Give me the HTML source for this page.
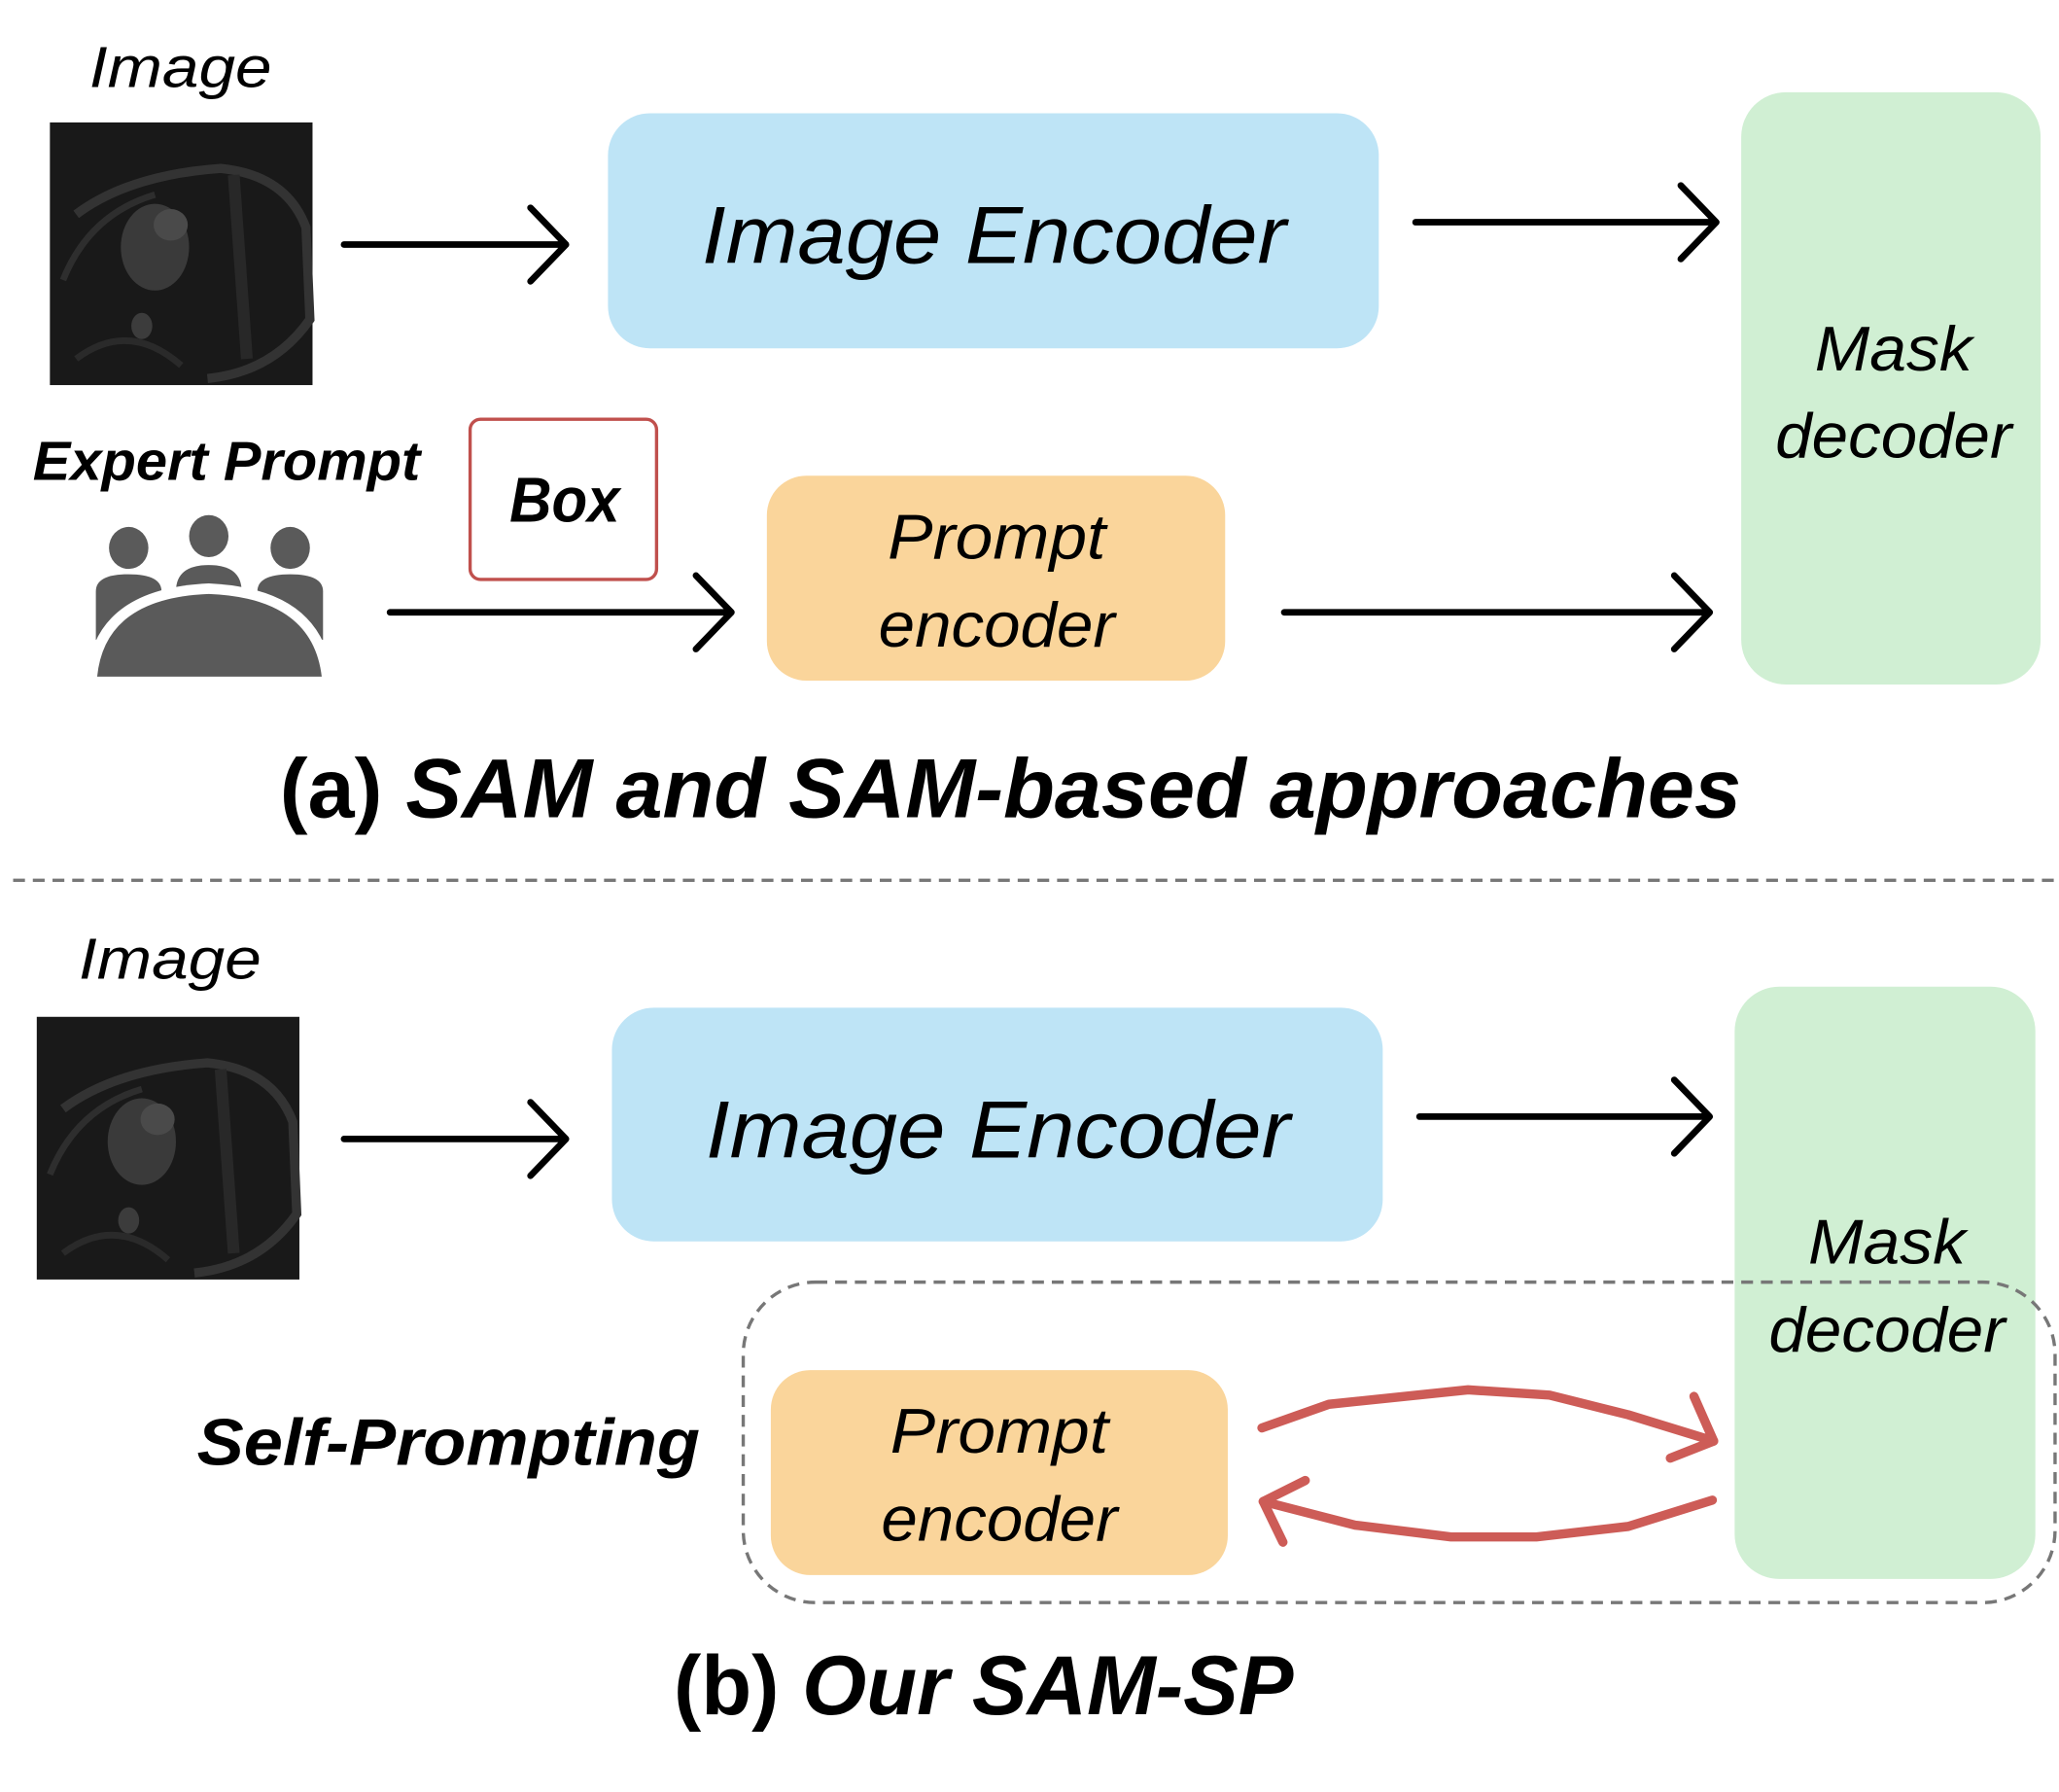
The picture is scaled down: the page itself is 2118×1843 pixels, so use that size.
<!DOCTYPE html>
<html><head><meta charset="utf-8"><style>html,body{margin:0;padding:0;background:#fff}svg{display:block}</style></head>
<body>
<svg width="2118" height="1843" viewBox="0 0 1568 1364" xmlns="http://www.w3.org/2000/svg" font-family="Liberation Sans, sans-serif">
<defs>
<g id="mri">
<rect x="0" y="0" width="200" height="200" fill="#191919"/>
<path d="M20 70 Q60 40 130 35 Q180 40 195 80 L198 150 Q170 190 120 195" fill="none" stroke="#333" stroke-width="7"/>
<path d="M10 120 Q30 70 80 55" fill="none" stroke="#2e2e2e" stroke-width="5"/>
<ellipse cx="80" cy="95" rx="26" ry="33" fill="#3a3a3a"/>
<ellipse cx="92" cy="78" rx="13" ry="12" fill="#4a4a4a"/>
<ellipse cx="70" cy="155" rx="8" ry="10" fill="#3c3c3c"/>
<path d="M140 40 L150 180" stroke="#282828" stroke-width="9"/>
<path d="M20 180 Q60 150 100 185" fill="none" stroke="#2a2a2a" stroke-width="5"/>
</g>
</defs>
<g fill="#000">
<text x="68" y="66" font-size="44" font-style="italic" textLength="139" lengthAdjust="spacingAndGlyphs">Image</text>
<use href="#mri" x="38" y="93"/>
<rect x="463" y="86" width="587" height="179" rx="32" fill="#bee4f6"/>
<text x="757" y="200" font-size="62" font-style="italic" text-anchor="middle" textLength="445" lengthAdjust="spacingAndGlyphs">Image Encoder</text>
<rect x="1326" y="70" width="228" height="451" rx="34" fill="#d0efd3"/>
<text x="1442" y="282" font-size="48" font-style="italic" text-anchor="middle" textLength="120" lengthAdjust="spacingAndGlyphs">Mask</text>
<text x="1442" y="348" font-size="48" font-style="italic" text-anchor="middle" textLength="180" lengthAdjust="spacingAndGlyphs">decoder</text>
<text x="25" y="365" font-size="42" font-weight="bold" font-style="italic" textLength="295" lengthAdjust="spacingAndGlyphs">Expert Prompt</text>
<rect x="358" y="319" width="142" height="122" rx="8" fill="none" stroke="#c0504d" stroke-width="2.5"/>
<text x="430" y="397" font-size="48" font-weight="bold" font-style="italic" text-anchor="middle" textLength="84" lengthAdjust="spacingAndGlyphs">Box</text>
<g fill="#5a5a5a">
<ellipse cx="98" cy="417" rx="15" ry="16"/><ellipse cx="159" cy="408" rx="15" ry="16"/><ellipse cx="221" cy="417" rx="15" ry="16"/>
<path d="M73 487 L73 450 Q73 437 98 437 Q123 437 123 450 L123 470 Z"/>
<path d="M134 450 Q134 430 159 430 Q184 430 184 450 L184 458 L134 458 Z"/>
<path d="M196 470 L196 450 Q196 437 221 437 Q246 437 246 450 L246 487 Z"/>
<path d="M66 515 Q72 448 159 444 Q246 448 253 515 Z" fill="#fff"/>
<path d="M74 515 Q80 455 159 452 Q238 455 245 515 Z"/>
</g>
<rect x="584" y="362" width="349" height="156" rx="30" fill="#fad59b"/>
<text x="759" y="425" font-size="48" font-style="italic" text-anchor="middle" textLength="166" lengthAdjust="spacingAndGlyphs">Prompt</text>
<text x="759" y="492" font-size="48" font-style="italic" text-anchor="middle" textLength="180" lengthAdjust="spacingAndGlyphs">encoder</text>
<text x="213" y="622" font-size="64" font-weight="bold" textLength="1113" lengthAdjust="spacingAndGlyphs">(a) <tspan font-style="italic">SAM and SAM-based approaches</tspan></text>
<text x="60" y="745" font-size="44" font-style="italic" textLength="139" lengthAdjust="spacingAndGlyphs">Image</text>
<use href="#mri" x="28" y="774"/>
<rect x="466" y="767" width="587" height="178" rx="32" fill="#bee4f6"/>
<text x="760" y="881" font-size="62" font-style="italic" text-anchor="middle" textLength="445" lengthAdjust="spacingAndGlyphs">Image Encoder</text>
<rect x="1321" y="751" width="229" height="451" rx="34" fill="#d0efd3"/>
<text x="1437" y="962" font-size="48" font-style="italic" text-anchor="middle" textLength="120" lengthAdjust="spacingAndGlyphs">Mask</text>
<text x="1437" y="1029" font-size="48" font-style="italic" text-anchor="middle" textLength="180" lengthAdjust="spacingAndGlyphs">decoder</text>
<rect x="566" y="976" width="999" height="244" rx="55" fill="none" stroke="#777" stroke-width="2.5" stroke-dasharray="9 6"/>
<text x="150" y="1115" font-size="50" font-weight="bold" font-style="italic" textLength="383" lengthAdjust="spacingAndGlyphs">Self-Prompting</text>
<rect x="587" y="1043" width="348" height="156" rx="30" fill="#fad59b"/>
<text x="761" y="1106" font-size="48" font-style="italic" text-anchor="middle" textLength="166" lengthAdjust="spacingAndGlyphs">Prompt</text>
<text x="761" y="1173" font-size="48" font-style="italic" text-anchor="middle" textLength="180" lengthAdjust="spacingAndGlyphs">encoder</text>
<text x="513" y="1305" font-size="64" font-weight="bold" textLength="472" lengthAdjust="spacingAndGlyphs">(b) <tspan font-style="italic">Our SAM-SP</tspan></text>
</g>
<g stroke="#000" stroke-width="5" fill="none" stroke-linecap="round" stroke-linejoin="round">
<path d="M262 186 L430 186 M404 158 L431 186 L404 214"/>
<path d="M1078 169 L1306 169 M1280 141 L1307 169 L1280 197"/>
<path d="M297 466 L556 466 M530 438 L557 466 L530 494"/>
<path d="M978 466 L1301 466 M1275 438 L1302 466 L1275 494"/>
<path d="M262 867 L430 867 M404 839 L431 867 L404 895"/>
<path d="M1081 850 L1301 850 M1275 822 L1302 850 L1275 878"/>
</g>
<line x1="10" y1="670" x2="1568" y2="670" stroke="#777" stroke-width="2.5" stroke-dasharray="9 6"/>
<g stroke="#cd5c57" stroke-width="7" fill="none" stroke-linecap="round" stroke-linejoin="round">
<path d="M961 1087 L1012 1069 L1118 1058 L1180 1062 L1240 1077 L1305 1097"/>
<path d="M1290 1063 L1305 1097 L1272 1110"/>
<path d="M1304 1142 L1240 1162 L1170 1170 L1105 1170 L1032 1161 L962 1143"/>
<path d="M994 1127 L962 1143 L977 1174"/>
</g>
</svg>
</body></html>
